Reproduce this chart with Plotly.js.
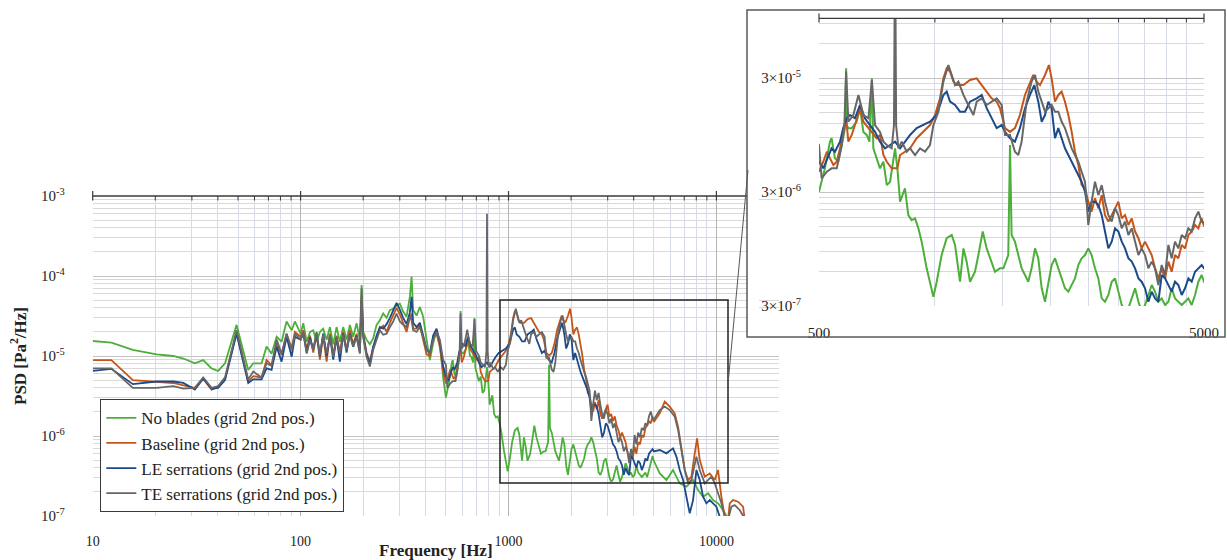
<!DOCTYPE html>
<html>
<head>
<meta charset="utf-8">
<script src="https://cdn.plot.ly/plotly-3.0.1.min.js"></script>
<style>html,body{margin:0;padding:0;background:#fff}#chart{width:1227px;height:560px}</style>
</head>
<body>
<div id="chart"></div>
<script>
// ---------------- DATA ----------------
const seriesNames = ['No blades (grid 2nd pos.)', 'Baseline (grid 2nd pos.)', 'LE serrations (grid 2nd pos.)', 'TE serrations (grid 2nd pos.)'];
const seriesColors = ['#4caf3a', '#c5561a', '#1c4a8a', '#676767'];

// 10 - 94 Hz (shared frequencies)
const lowFreq = [10, 12.3, 15.6, 20.3, 24.4, 27.3, 31.0, 34.0, 37.3, 40.1, 43.3, 49.2, 56.0, 59.2, 64.9, 68.6, 72.5, 76.7, 81.0, 85.6, 90.6, 93.9];
const lowNoBlades = [1.54e-5, 1.47e-5, 1.19e-5, 1.05e-5, 1.0e-5, 9.3e-6, 8.1e-6, 8.9e-6, 7.0e-6, 6.5e-6, 8.1e-6, 2.45e-5, 6.7e-6, 8.1e-6, 8.1e-6, 1.31e-5, 1.07e-5, 1.74e-5, 1.51e-5, 2.7e-5, 2.1e-5, 2.7e-5];
const lowBaseline = [8.9e-6, 8.9e-6, 5.0e-6, 4.8e-6, 4.6e-6, 4.3e-6, 4.0e-6, 5.2e-6, 3.8e-6, 4.1e-6, 5.2e-6, 2.0e-5, 4.8e-6, 5.6e-6, 5.4e-6, 8.9e-6, 7.7e-6, 1.44e-5, 1.03e-5, 1.9e-5, 1.25e-5, 2.0e-5];
const lowLE = [6.5e-6, 6.9e-6, 4.45e-6, 4.8e-6, 4.8e-6, 4.6e-6, 3.8e-6, 5.2e-6, 3.9e-6, 4.0e-6, 5.0e-6, 1.9e-5, 4.6e-6, 5.1e-6, 5.1e-6, 7.0e-6, 6.7e-6, 1.31e-5, 8.5e-6, 1.74e-5, 9.8e-6, 1.74e-5];
const lowTE = [7.0e-6, 7.0e-6, 4.0e-6, 4.0e-6, 4.2e-6, 3.9e-6, 4.0e-6, 5.4e-6, 4.0e-6, 4.2e-6, 5.4e-6, 2.1e-5, 5.1e-6, 6.4e-6, 5.4e-6, 8.1e-6, 7.5e-6, 1.6e-5, 1.07e-5, 1.9e-5, 1.19e-5, 1.9e-5];

// 100 - 485 Hz (shared frequencies)
const midFreq = [100, 103, 107, 111, 115, 119.4, 123.8, 128.4, 133.4, 138.4,
  143.5, 148.9, 154.5, 160.3, 166.4, 172.6, 179, 185.9, 192.8, 196.5,
  200, 207.6, 215.4, 223.4, 232, 240.6, 249.6, 259.2, 268.8, 278.8,
  289.4, 300.2, 311.4, 323.3, 335.4, 341.8, 347.8, 361.2, 374.6, 388.6,
  403.5, 418.5, 434.1, 450.7, 467.4, 484.8];
const midNoBlades = [1.9e-5, 2.57e-5, 1.51e-5, 2.0e-5, 2.1e-5, 1.5e-5, 2.0e-5, 2.2e-5, 1.6e-5, 2.3e-5,
  1.4e-5, 2.3e-5, 1.5e-5, 2.3e-5, 1.6e-5, 2.45e-5, 1.74e-5, 2.57e-5, 1.6e-5, 7.7e-5,
  2.0e-5, 1.6e-5, 1.4e-5, 1.66e-5, 2.45e-5, 2.8e-5, 3.4e-5, 3.0e-5, 3.75e-5, 3.9e-5,
  4.3e-5, 4.5e-5, 3.6e-5, 3.1e-5, 5.5e-5, 9.8e-5, 3.75e-5, 3.2e-5, 4.1e-5, 3.1e-5,
  1.6e-5, 8.9e-6, 1.44e-5, 2.1e-5, 1.44e-5, 5.4e-6];
const midBaseline = [1.74e-5, 2.1e-5, 1.2e-5, 1.8e-5, 1.1e-5, 1.9e-5, 9e-6, 1.8e-5, 8.5e-6, 1.9e-5,
  1.0e-5, 1.8e-5, 1.1e-5, 2.0e-5, 1.2e-5, 2.1e-5, 1.4e-5, 1.9e-5, 1.2e-5, 5.5e-5,
  1.9e-5, 1.1e-5, 8.5e-6, 1.3e-5, 1.7e-5, 2.2e-5, 2.4e-5, 2.0e-5, 2.6e-5, 3.3e-5,
  4.0e-5, 3.3e-5, 2.6e-5, 2.0e-5, 3.0e-5, 3.4e-5, 2.2e-5, 2.2e-5, 2.4e-5, 1.6e-5,
  1.05e-5, 1.0e-5, 1.7e-5, 1.9e-5, 1.3e-5, 6.5e-6];
const midLE = [1.6e-5, 1.9e-5, 1.1e-5, 1.7e-5, 1.2e-5, 1.9e-5, 1.0e-5, 1.9e-5, 1.0e-5, 1.8e-5,
  9e-6, 1.7e-5, 8.5e-6, 1.9e-5, 1.1e-5, 1.9e-5, 1.3e-5, 1.8e-5, 1.1e-5, 5.0e-5,
  1.8e-5, 1.05e-5, 8e-6, 1.3e-5, 1.8e-5, 2.3e-5, 2.2e-5, 2.5e-5, 3.0e-5, 3.8e-5,
  4.6e-5, 3.8e-5, 3.0e-5, 2.5e-5, 3.5e-5, 5.5e-5, 2.6e-5, 2.3e-5, 2.6e-5, 1.8e-5,
  1.2e-5, 1.1e-5, 1.8e-5, 2.2e-5, 1.5e-5, 7.5e-6];
const midTE = [1.6e-5, 2.0e-5, 1.07e-5, 1.6e-5, 1.19e-5, 2.0e-5, 1.03e-5, 1.84e-5, 1.07e-5, 1.84e-5,
  9.8e-6, 1.74e-5, 1.07e-5, 1.84e-5, 1.19e-5, 1.84e-5, 1.31e-5, 1.74e-5, 1.07e-5, 7.0e-5,
  1.74e-5, 9.8e-6, 7.4e-6, 1.19e-5, 1.6e-5, 2.1e-5, 1.84e-5, 1.9e-5, 2.3e-5, 2.7e-5,
  3.4e-5, 2.7e-5, 2.45e-5, 2.3e-5, 3.1e-5, 2.8e-5, 2.1e-5, 2.0e-5, 2.3e-5, 1.74e-5,
  1.19e-5, 1.07e-5, 1.6e-5, 2.0e-5, 1.6e-5, 8.9e-6];

// 500 Hz and above (per-series frequencies)
const hiFreqNoBlades = [500, 518, 534, 539, 550, 561, 573, 584, 588, 590,
  596, 608, 626, 639, 652, 665, 676, 686, 692, 706,
  720, 735, 750, 765, 780, 788, 799, 812, 836, 853,
  870, 888, 906, 924, 952, 981, 991, 1011, 1041, 1073,
  1106, 1128, 1162, 1186, 1209, 1234, 1271, 1297, 1331, 1363,
  1404, 1432, 1476, 1506, 1551, 1567, 1582, 1614, 1647, 1680,
  1714, 1748, 1783, 1820, 1856, 1894, 1932, 1971, 2010, 2051,
  2092, 2134, 2177, 2221, 2266, 2311, 2358, 2405, 2454, 2503,
  2553, 2605, 2658, 2712, 2766, 2822, 2879, 2937, 2996, 3057,
  3118, 3181, 3245, 3311, 3378, 3444, 3514, 3585, 3657, 3731,
  3806, 3882, 3960, 4041, 4121, 4204, 4289, 4376, 4464, 4554,
  4645, 4739, 4834, 4931, 5000, 5340, 5748, 6186, 6662, 7174,
  7722, 8162, 8627, 9118, 9636, 10180, 10762, 11376];
const hiNoBlades = [3.02e-6, 4.84e-6, 8.3e-6, 8.9e-6, 5.92e-6, 5.53e-6, 7.75e-6, 1.09e-5, 3.65e-5, 1.16e-5,
  1.09e-5, 1.09e-5, 1.24e-5, 1.63e-5, 1.01e-5, 9.5e-6, 8.3e-6, 2.98e-5, 7.25e-6, 5.92e-6,
  4.84e-6, 5.53e-6, 3.45e-6, 3.69e-6, 5.53e-6, 7.25e-6, 4.84e-6, 2.47e-6, 3.23e-6, 1.88e-6,
  1.70e-6, 1.76e-6, 1.44e-6, 1.10e-6, 6.42e-7, 4.01e-7, 3.62e-7, 4.90e-7, 8.4e-7, 1.18e-6,
  1.26e-6, 1.03e-6, 4.90e-7, 9.6e-7, 7.35e-7, 4.90e-7, 6.0e-7, 8.4e-7, 1.35e-6, 9.6e-7,
  7.35e-7, 6.0e-7, 6.42e-7, 6.42e-7, 8.4e-7, 7.75e-6, 1.26e-6, 1.10e-6, 8.4e-7, 6.42e-7,
  5.61e-7, 4.90e-7, 6.42e-7, 9.6e-7, 7.86e-7, 4.29e-7, 3.27e-7, 4.90e-7, 6.87e-7, 7.86e-7,
  6.42e-7, 5.24e-7, 4.29e-7, 4.01e-7, 4.58e-7, 5.24e-7, 6.87e-7, 7.86e-7, 8.4e-7, 9.6e-7,
  8.4e-7, 6.42e-7, 5.24e-7, 3.50e-7, 3.27e-7, 3.75e-7, 4.90e-7, 5.24e-7, 4.01e-7, 3.06e-7,
  2.68e-7, 2.86e-7, 3.50e-7, 4.29e-7, 3.27e-7, 2.68e-7, 3.06e-7, 3.75e-7, 4.58e-7, 4.01e-7,
  3.27e-7, 3.50e-7, 3.06e-7, 3.27e-7, 4.29e-7, 3.50e-7, 3.27e-7, 3.06e-7, 3.27e-7, 3.50e-7,
  3.06e-7, 3.75e-7, 4.90e-7, 5.61e-7, 4.90e-7, 3.41e-7, 2.82e-7, 3.76e-7, 2.56e-7, 2.33e-7,
  2.82e-7, 2.11e-7, 1.74e-7, 1.92e-7, 1.58e-7, 1.44e-7, 1.19e-7, 9.3e-8];

const hiFreqBaseline = [500, 513, 524, 534, 545, 556, 567, 578, 588, 596,
  608, 620, 639, 652, 672, 686, 706, 720, 735, 750,
  772, 799, 812, 836, 862, 897, 933, 971, 1001, 1031,
  1052, 1073, 1095, 1117, 1139, 1186, 1234, 1284, 1323, 1363,
  1404, 1447, 1476, 1521, 1567, 1614, 1663, 1714, 1766, 1801,
  1838, 1875, 1932, 1978, 2010, 2051, 2092, 2134, 2177, 2221,
  2266, 2311, 2358, 2405, 2454, 2503, 2553, 2605, 2658, 2712,
  2766, 2822, 2879, 2937, 2996, 3057, 3118, 3181, 3245, 3311,
  3378, 3444, 3514, 3585, 3657, 3731, 3806, 3882, 3960, 4041,
  4121, 4204, 4289, 4376, 4464, 4554, 4645, 4739, 4834, 4931,
  5000, 5340, 5643, 5965, 6303, 6540, 6786, 7041, 7308, 7580,
  7866, 8072, 8315, 8788, 9287, 9815, 10180, 10566, 10965, 11376,
  11588, 12023, 12705, 13428, 13677];
const hiBaseline = [4.52e-6, 5.53e-6, 6.77e-6, 5.92e-6, 5.17e-6, 5.53e-6, 7.25e-6, 1.01e-5, 1.33e-5, 8.3e-6,
  9.5e-6, 1.16e-5, 1.63e-5, 1.24e-5, 1.09e-5, 1.01e-5, 8.9e-6, 9.5e-6, 6.33e-6, 5.53e-6,
  4.84e-6, 4.84e-6, 6.33e-6, 6.77e-6, 7.25e-6, 8.9e-6, 1.01e-5, 1.16e-5, 1.42e-5, 1.99e-5,
  2.98e-5, 3.65e-5, 3.41e-5, 2.79e-5, 2.60e-5, 2.60e-5, 2.88e-5, 2.98e-5, 2.60e-5, 2.28e-5,
  1.99e-5, 1.86e-5, 1.63e-5, 1.09e-5, 1.01e-5, 1.09e-5, 1.42e-5, 2.13e-5, 2.79e-5, 3.19e-5,
  2.79e-5, 2.60e-5, 3.19e-5, 3.90e-5, 2.98e-5, 1.86e-5, 2.13e-5, 2.28e-5, 1.86e-5, 1.42e-5,
  1.01e-5, 6.77e-6, 5.17e-6, 3.45e-6, 3.23e-6, 2.47e-6, 2.02e-6, 2.64e-6, 2.16e-6, 2.82e-6,
  1.88e-6, 1.65e-6, 1.88e-6, 2.16e-6, 2.47e-6, 1.76e-6, 1.88e-6, 1.54e-6, 1.76e-6, 1.35e-6,
  1.18e-6, 9.6e-7, 1.10e-6, 9.6e-7, 8.4e-7, 6.42e-7, 5.24e-7, 6.42e-7, 5.24e-7, 7.35e-7,
  6.0e-7, 8.4e-7, 7.86e-7, 1.03e-6, 9.6e-7, 1.26e-6, 1.35e-6, 1.54e-6, 1.44e-6, 1.76e-6,
  1.5e-6, 1.92e-6, 2.69e-6, 2.33e-6, 1.92e-6, 1.31e-6, 7.36e-7, 3.76e-7, 2.82e-7, 3.10e-7,
  6.07e-7, 9.35e-7, 5.01e-7, 3.10e-7, 3.41e-7, 2.82e-7, 3.76e-7, 1.74e-7, 9.8e-8, 8.9e-8,
  1.44e-7, 1.58e-7, 1.51e-7, 1.31e-7, 9.3e-8];

const hiFreqLE = [500, 513, 529, 539, 550, 567, 578, 590, 602, 620,
  639, 658, 678, 699, 720, 742, 765, 788, 812, 836,
  862, 897, 933, 971, 1011, 1052, 1073, 1095, 1128, 1162,
  1197, 1234, 1284, 1323, 1363, 1404, 1447, 1491, 1521, 1567,
  1614, 1663, 1714, 1766, 1812, 1856, 1894, 1932, 1971, 2010,
  2051, 2092, 2134, 2177, 2221, 2266, 2311, 2358, 2405, 2454,
  2503, 2553, 2605, 2658, 2712, 2766, 2822, 2879, 2937, 2996,
  3057, 3118, 3181, 3245, 3311, 3378, 3444, 3514, 3585, 3657,
  3731, 3806, 3882, 3960, 4041, 4121, 4204, 4289, 4376, 4464,
  4554, 4645, 4739, 4834, 4931, 5000, 5340, 5748, 6186, 6420,
  6662, 6913, 7174, 7441, 7722, 8013, 8315, 8627, 8952, 9287,
  9636, 9998, 10373, 10700];
const hiLE = [5.53e-6, 4.84e-6, 6.33e-6, 7.25e-6, 6.77e-6, 8.3e-6, 1.09e-5, 1.33e-5, 1.42e-5, 1.33e-5,
  1.74e-5, 1.33e-5, 1.16e-5, 1.01e-5, 8.3e-6, 7.25e-6, 7.75e-6, 8.3e-6, 7.25e-6, 8.3e-6,
  9.5e-6, 1.09e-5, 1.16e-5, 1.24e-5, 1.42e-5, 2.13e-5, 2.28e-5, 1.86e-5, 1.74e-5, 1.52e-5,
  1.52e-5, 1.86e-5, 1.99e-5, 2.13e-5, 1.63e-5, 1.33e-5, 1.09e-5, 1.16e-5, 1.01e-5, 8.9e-6,
  8.3e-6, 1.09e-5, 1.63e-5, 2.13e-5, 2.60e-5, 1.86e-5, 1.24e-5, 1.42e-5, 1.86e-5, 1.63e-5,
  8.9e-6, 1.09e-5, 8.9e-6, 7.25e-6, 6.33e-6, 5.53e-6, 4.84e-6, 4.23e-6, 3.69e-6, 3.02e-6,
  2.02e-6, 2.47e-6, 2.47e-6, 2.31e-6, 1.88e-6, 1.35e-6, 9.6e-7, 1.10e-6, 1.44e-6, 1.35e-6,
  1.10e-6, 9.6e-7, 7.86e-7, 7.35e-7, 6.42e-7, 5.24e-7, 4.90e-7, 4.29e-7, 3.27e-7, 4.01e-7,
  3.50e-7, 3.27e-7, 5.61e-7, 5.24e-7, 4.58e-7, 4.01e-7, 4.90e-7, 4.58e-7, 3.75e-7, 4.29e-7,
  5.24e-7, 4.90e-7, 6.0e-7, 6.42e-7, 6.87e-7, 6.42e-7, 6.68e-7, 6.07e-7, 7.01e-7, 5.52e-7,
  3.76e-7, 2.82e-7, 1.74e-7, 1.08e-7, 1.58e-7, 3.76e-7, 2.82e-7, 1.74e-7, 1.44e-7, 1.58e-7,
  1.44e-7, 1.31e-7, 9.8e-8, 8.5e-8];

const hiFreqTE = [500, 508, 524, 539, 556, 573, 582, 588, 596, 614,
  633, 652, 672, 686, 699, 720, 735, 750, 772, 783,
  788, 793, 804, 820, 845, 862, 888, 915, 943, 971,
  991, 1021, 1052, 1084, 1106, 1128, 1151, 1186, 1221, 1259,
  1284, 1323, 1363, 1404, 1447, 1491, 1521, 1567, 1614, 1647,
  1680, 1731, 1783, 1820, 1856, 1894, 1932, 1971, 2010, 2051,
  2092, 2134, 2177, 2221, 2266, 2311, 2358, 2405, 2454, 2478,
  2503, 2553, 2605, 2658, 2712, 2766, 2822, 2879, 2937, 2996,
  3057, 3118, 3181, 3245, 3311, 3378, 3444, 3514, 3585, 3657,
  3731, 3806, 3882, 3960, 4041, 4121, 4204, 4289, 4376, 4464,
  4554, 4645, 4739, 4834, 4931, 5000, 5340, 5643, 5965, 6303,
  6540, 6786, 7041, 7308, 7580, 8013, 8315, 8788, 9118, 9459,
  9815, 10180, 10566, 10965, 11376, 11800, 12246, 12942, 13677];
const hiTE = [7.75e-6, 3.95e-6, 4.52e-6, 4.84e-6, 4.84e-6, 7.75e-6, 1.16e-5, 3.41e-5, 1.24e-5, 1.42e-5,
  2.13e-5, 1.42e-5, 1.33e-5, 2.88e-5, 1.16e-5, 1.01e-5, 8.3e-6, 7.75e-6, 7.25e-6, 1.16e-5,
  6.0e-4, 1.16e-5, 7.25e-6, 8.3e-6, 6.77e-6, 7.25e-6, 6.33e-6, 7.25e-6, 6.77e-6, 7.75e-6,
  1.16e-5, 1.52e-5, 2.79e-5, 3.90e-5, 3.19e-5, 2.60e-5, 2.79e-5, 2.13e-5, 1.74e-5, 1.42e-5,
  1.86e-5, 1.99e-5, 1.74e-5, 1.86e-5, 1.99e-5, 1.74e-5, 9.5e-6, 9.5e-6, 6.77e-6, 6.33e-6,
  8.3e-6, 1.86e-5, 2.79e-5, 3.19e-5, 2.28e-5, 1.86e-5, 1.52e-5, 1.63e-5, 1.74e-5, 1.52e-5,
  1.52e-5, 1.24e-5, 1.09e-5, 8.9e-6, 7.25e-6, 6.33e-6, 5.53e-6, 4.52e-6, 3.69e-6, 2.47e-6,
  1.54e-6, 2.47e-6, 3.69e-6, 2.82e-6, 3.45e-6, 2.47e-6, 1.88e-6, 1.65e-6, 2.16e-6, 1.88e-6,
  1.44e-6, 1.65e-6, 1.26e-6, 1.44e-6, 1.10e-6, 8.4e-7, 9.6e-7, 8.4e-7, 6.42e-7, 7.35e-7,
  6.42e-7, 4.58e-7, 6.87e-7, 5.61e-7, 1.03e-6, 7.86e-7, 1.10e-6, 9.6e-7, 1.26e-6, 1.18e-6,
  1.44e-6, 1.35e-6, 1.76e-6, 2.02e-6, 1.65e-6, 1.6e-6, 2.11e-6, 2.33e-6, 2.11e-6, 1.74e-6,
  1.19e-6, 6.68e-7, 3.76e-7, 2.56e-7, 2.82e-7, 5.52e-7, 3.76e-7, 2.56e-7, 2.82e-7, 3.10e-7,
  2.56e-7, 1.92e-7, 1.44e-7, 9.8e-8, 8.9e-8, 1.31e-7, 1.37e-7, 1.19e-7, 9.3e-8];

// tick labels
const mainXTicks = [10, 100, 1000, 10000];
const mainXTickText = ['10', '100', '1000', '10000'];
const mainYTicks = [1e-7, 1e-6, 1e-5, 1e-4, 1e-3];
const mainYTickText = ['10<sup>-7</sup>', '10<sup>-6</sup>', '10<sup>-5</sup>', '10<sup>-4</sup>', '10<sup>-3</sup>'];
const insetXTicks = [500, 5000];
const insetXTickText = ['500', '5000'];
const insetYTicks = [3e-7, 3e-6, 3e-5];
const insetYTickText = ['3×10<sup>-7</sup>', '3×10<sup>-6</sup>', '3×10<sup>-5</sup>'];

// ---------------- BUILD ----------------
const FONT = 'Liberation Serif, Times New Roman, serif';
const series = [
  {f: lowFreq.concat(midFreq, hiFreqNoBlades), p: lowNoBlades.concat(midNoBlades, hiNoBlades)},
  {f: lowFreq.concat(midFreq, hiFreqBaseline), p: lowBaseline.concat(midBaseline, hiBaseline)},
  {f: lowFreq.concat(midFreq, hiFreqLE), p: lowLE.concat(midLE, hiLE)},
  {f: lowFreq.concat(midFreq, hiFreqTE), p: lowTE.concat(midTE, hiTE)}
];

const traces = [];
series.forEach((s, i) => {
  traces.push({x: s.f, y: s.p, type: 'scatter', mode: 'lines', name: seriesNames[i],
    line: {color: seriesColors[i], width: 1.8}, xaxis: 'x', yaxis: 'y', hoverinfo: 'skip'});
});
series.forEach((s, i) => {
  traces.push({x: s.f, y: s.p, type: 'scatter', mode: 'lines', name: seriesNames[i], showlegend: false,
    line: {color: seriesColors[i], width: 2}, xaxis: 'x2', yaxis: 'y2', hoverinfo: 'skip'});
});

// minor grid positions (k * decade)
function minorVals(starts, ks) {
  const out = [];
  starts.forEach(s => ks.forEach(k => out.push(s * k)));
  return out;
}
const k29 = [2, 3, 4, 5, 6, 7, 8, 9];
const mainXMinor = minorVals([10, 100, 1000], k29).concat([20000]);
const mainYMinor = minorVals([1e-7, 1e-6, 1e-5, 1e-4], k29);
const insetXMinor = minorVals([500], k29);
const insetYMinor = minorVals([3e-7, 3e-6], k29).concat([6e-5, 9e-5]);

const W = 1227, H = 560;
const px = v => v / W, py = v => (H - v) / H;

const MAIN_XR = [1, Math.log10(20000)];
const INSET_XR = [Math.log10(500), Math.log10(5000)];
// fraction of an axis' domain for a tick value on a log axis
const fracOf = (v, r) => (Math.log10(v) - r[0]) / (r[1] - r[0]);

const tickFont = {family: FONT, size: 14, color: '#222'};
const insetTickFont = {family: FONT, size: 15, color: '#222'};
const vGrid = '#d5dce7', hGridMajor = '#c4c4c4', hGridMinor = '#d9d9d9';
const AX = '#3a3a3a';

const shapes = [];
// white patches hiding the main grid where the inset frame covers it (kept clear of the inset tick labels)
const patch = (x0, x1, y0, y1) => shapes.push({type: 'rect', xref: 'paper', yref: 'paper',
  x0: px(x0), x1: px(x1), y0: py(y1), y1: py(y0), fillcolor: '#ffffff', line: {width: 0}, layer: 'above'});
patch(747.8, 759, 192, 336.2);
patch(747.8, 782, 201, 295);
patch(747.8, 782, 315, 336.2);
// main top axis line (stops at the inset frame)
shapes.push({type: 'line', xref: 'x domain', yref: 'paper', x0: 0, x1: (747 - 92.7) / (779 - 92.7),
  y0: py(196), y1: py(196), line: {color: AX, width: 1.3}, layer: 'above'});
mainXMinor.filter(v => v < 12000).forEach(v => shapes.push({type: 'line', xref: 'x domain', yref: 'paper',
  x0: fracOf(v, MAIN_XR), x1: fracOf(v, MAIN_XR), y0: py(196), y1: py(200.5), line: {color: AX, width: 1}, layer: 'above'}));
mainXTicks.forEach(v => shapes.push({type: 'line', xref: 'x domain', yref: 'paper',
  x0: fracOf(v, MAIN_XR), x1: fracOf(v, MAIN_XR), y0: py(191), y1: py(200.5), line: {color: AX, width: 1.2}, layer: 'above'}));
// inset top axis line
shapes.push({type: 'line', xref: 'x2 domain', yref: 'paper', x0: 0, x1: 1,
  y0: py(18.4), y1: py(18.4), line: {color: AX, width: 1.3}, layer: 'above'});
insetXMinor.forEach(v => shapes.push({type: 'line', xref: 'x2 domain', yref: 'paper',
  x0: fracOf(v, INSET_XR), x1: fracOf(v, INSET_XR), y0: py(18.4), y1: py(22.5), line: {color: AX, width: 1}, layer: 'above'}));
insetXTicks.forEach(v => shapes.push({type: 'line', xref: 'x2 domain', yref: 'paper',
  x0: fracOf(v, INSET_XR), x1: fracOf(v, INSET_XR), y0: py(13.5), y1: py(22.5), line: {color: AX, width: 1.2}, layer: 'above'}));
// inset frame
shapes.push({type: 'rect', xref: 'paper', yref: 'paper', x0: px(747), x1: px(1225), y0: py(337), y1: py(10),
  line: {color: '#5a5a5a', width: 1.5}, layer: 'above'});
// zoom rectangle in the main plot
shapes.push({type: 'rect', xref: 'paper', yref: 'paper', x0: px(500), x1: px(728), y0: py(483), y1: py(300),
  line: {color: '#222', width: 1.5}, layer: 'above'});
// connector line
shapes.push({type: 'line', xref: 'paper', yref: 'paper', x0: px(728), y0: py(384), x1: px(748), y1: py(170),
  line: {color: '#555', width: 1}, layer: 'above'});

const layout = {
  width: W, height: H, autosize: false,
  margin: {l: 0, r: 0, t: 0, b: 0},
  paper_bgcolor: '#fff', plot_bgcolor: '#fff',
  showlegend: true,
  font: {family: FONT, size: 14, color: '#222'},
  xaxis: {type: 'log', range: MAIN_XR, domain: [px(92.7), px(779)], anchor: 'y',
    tickmode: 'array', tickvals: mainXTicks, ticktext: mainXTickText, tickfont: tickFont,
    ticks: 'outside', ticklen: 12, tickcolor: 'rgba(0,0,0,0)',
    showgrid: true, gridcolor: '#b4b4b4', gridwidth: 1, zeroline: false, showline: false,
    minor: {tickmode: 'array', tickvals: mainXMinor, showgrid: true, gridcolor: vGrid, gridwidth: 1, ticks: ''},
    title: {text: 'Frequency [Hz]', font: {family: FONT, size: 17, weight: 'bold', color: '#222'}, standoff: 0}},
  yaxis: {type: 'log', range: [-7, -3], domain: [py(516), py(196)], anchor: 'x',
    tickmode: 'array', tickvals: mainYTicks, ticktext: mainYTickText, tickfont: {family: FONT, size: 15, color: '#222'},
    ticks: 'outside', ticklen: 24, tickcolor: 'rgba(0,0,0,0)',
    showgrid: true, gridcolor: hGridMajor, gridwidth: 1, zeroline: false, showline: false,
    minor: {tickmode: 'array', tickvals: mainYMinor, showgrid: true, gridcolor: hGridMinor, gridwidth: 1, ticks: ''},
    title: {text: 'PSD [Pa<sup>2</sup>/Hz]', font: {family: FONT, size: 17, weight: 'bold', color: '#222'}, standoff: 10}},
  xaxis2: {type: 'log', range: INSET_XR, domain: [px(819), px(1204)], anchor: 'y2',
    tickmode: 'array', tickvals: insetXTicks, ticktext: insetXTickText, tickfont: insetTickFont,
    ticks: 'outside', ticklen: 13, tickcolor: 'rgba(0,0,0,0)',
    showgrid: true, gridcolor: vGrid, zeroline: false, showline: false,
    minor: {tickmode: 'array', tickvals: insetXMinor, showgrid: true, gridcolor: vGrid, ticks: ''}},
  yaxis2: {type: 'log', range: [Math.log10(3e-7), -4], domain: [py(306), py(18.4)], anchor: 'x2',
    tickmode: 'array', tickvals: insetYTicks, ticktext: insetYTickText, tickfont: insetTickFont,
    ticks: 'outside', ticklen: 14, tickcolor: 'rgba(0,0,0,0)',
    showgrid: true, gridcolor: hGridMajor, zeroline: false, showline: false,
    minor: {tickmode: 'array', tickvals: insetYMinor, showgrid: true, gridcolor: hGridMinor, ticks: ''}},
  legend: {x: px(100), y: py(399), xanchor: 'left', yanchor: 'top',
    bgcolor: '#fff', bordercolor: AX, borderwidth: 1.3,
    font: {family: FONT, size: 17, color: '#222'}, tracegroupgap: 0, itemwidth: 30},
  shapes: shapes
};

Plotly.newPlot('chart', traces, layout, {staticPlot: true, displayModeBar: false});
</script>
</body>
</html>
